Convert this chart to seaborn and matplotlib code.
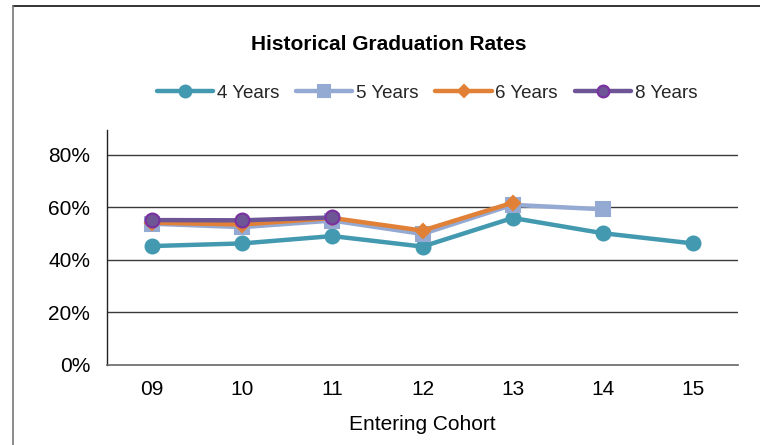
import matplotlib
matplotlib.use("Agg")
import matplotlib.pyplot as plt
from matplotlib.lines import Line2D
import seaborn as sns
import pandas as pd
import numpy as np

cohorts = ["09", "10", "11", "12", "13", "14", "15"]
years4 = [45.3, 46.3, 49.1, 45.1, 56.0, 50.2, 46.3]
years5 = [53.8, 52.5, 55.0, 49.9, 61.0, 59.3, None]
years6 = [54.2, 53.5, 56.0, 51.2, 61.8, None, None]
years8 = [55.2, 55.1, 56.2, None, None, None, None]
series_names = ["4 Years", "5 Years", "6 Years", "8 Years"]

sns.set_theme(style="white")
plt.rcParams['font.family'] = ['Liberation Sans', 'DejaVu Sans']

fig = plt.figure(figsize=(7.6, 4.45), dpi=100)
ax = fig.add_axes([107/760, 80/445, (738-107)/760, (365-130)/445])

styles = {
    "4 Years": dict(color="#4399AF", marker="o", markersize=10, mfc="#4399AF", mec="#4399AF", zorder=3),
    "5 Years": dict(color="#95AAD3", marker="s", markersize=9.5, mfc="#95AAD3", mec="#95AAD3", zorder=4),
    "6 Years": dict(color="#E08137", marker="D", markersize=7, mfc="#E08137", mec="#E08137", zorder=5),
    "8 Years": dict(color="#6E5596", marker="o", markersize=10, mfc="#6E5596", mec="#7A30A0", zorder=6),
}
data = dict(zip(series_names, [years4, years5, years6, years8]))

handles = []
for name in series_names:
    vals = data[name]
    df = pd.DataFrame({"x": np.arange(len(cohorts)), "y": [np.nan if v is None else v / 100 for v in vals]}).dropna()
    st = styles[name]
    sns.lineplot(data=df, x="x", y="y", ax=ax, color=st["color"], linewidth=3.2,
                 marker=st["marker"], markersize=st["markersize"],
                 markerfacecolor=st["mfc"], markeredgecolor=st["mec"], markeredgewidth=1.5,
                 zorder=st["zorder"], legend=False)
    handles.append(Line2D([0], [0], color=st["color"], linewidth=3.2, marker=st["marker"],
                          markersize=st["markersize"] * 0.85, markerfacecolor=st["mfc"],
                          markeredgecolor=st["mec"], markeredgewidth=1.5))

ax.set_xlim(-0.5, 6.5)
ax.set_ylim(0, 0.895)
ax.set_yticks([0, 0.2, 0.4, 0.6, 0.8])
ax.set_yticklabels(["0%", "20%", "40%", "60%", "80%"])
ax.set_xticks(range(len(cohorts)))
ax.set_xticklabels(cohorts)
ax.set_xticks(np.arange(-0.5, 7.0, 1.0), minor=True)
ax.tick_params(axis="x", which="major", length=0, pad=11, labelsize=15, colors="black")
ax.tick_params(axis="x", which="minor", length=5, width=1, color="#555555", direction="out")
ax.tick_params(axis="y", which="major", length=6, width=1, color="#333333", direction="out", pad=6, labelsize=15, labelcolor="black")

for yv in [0.2, 0.4, 0.6, 0.8]:
    ax.axhline(yv, color="#3a3a3a", linewidth=1.0, zorder=1)

for s in ["top", "right"]:
    ax.spines[s].set_visible(False)
ax.spines["left"].set_color("#222222")
ax.spines["left"].set_linewidth(1)
ax.spines["bottom"].set_color("#666666")
ax.spines["bottom"].set_linewidth(1.2)

ax.set_xlabel("Entering Cohort", fontsize=15, labelpad=11, color="black")
ax.set_ylabel("")

fig.text(389/760, 1 - 44/445, "Historical Graduation Rates", ha="center", va="center",
         fontsize=15, fontweight="bold", color="black")

fig.legend(handles, series_names, loc="center", bbox_to_anchor=(427/760, 1 - 93/445), ncol=4,
           frameon=False, fontsize=13.5, handlelength=3.0, handletextpad=0.2, columnspacing=0.9,
           numpoints=1)

# outer frame (top and left only)
fig.add_artist(Line2D([13/760, 1.0], [1 - 6/445, 1 - 6/445], transform=fig.transFigure, color="#111111", linewidth=1.2))
fig.add_artist(Line2D([13/760, 13/760], [0, 1 - 6/445], transform=fig.transFigure, color="#777777", linewidth=1.2))

fig.savefig("out.png", dpi=100)
